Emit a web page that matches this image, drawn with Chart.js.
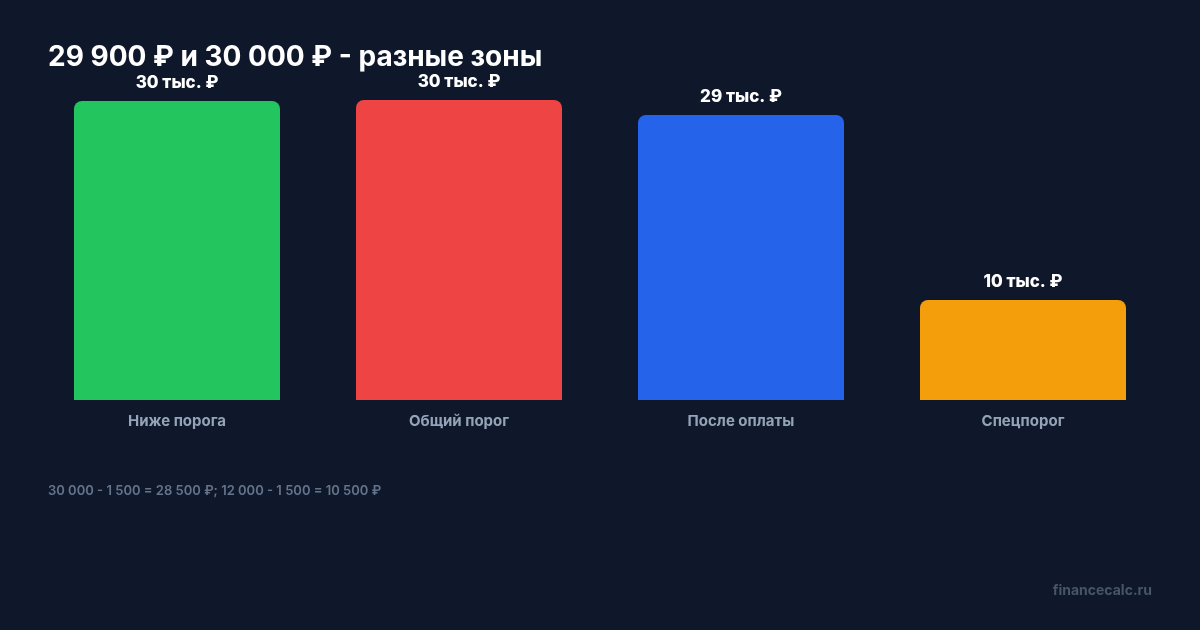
<!DOCTYPE html>
<html><head><meta charset="utf-8">
<script src="https://cdn.jsdelivr.net/npm/chart.js@4/dist/chart.umd.min.js"></script>
<style>
html,body{margin:0;padding:0;background:#0f172a;width:1200px;height:630px;overflow:hidden;font-family:Inter,"Noto Sans",sans-serif}
#wrap{position:absolute;left:0;top:0;width:1200px;height:630px}
#title{position:absolute;left:48px;top:38px;color:#fff;font-size:28px;font-weight:700;white-space:nowrap;line-height:36px}
#note{position:absolute;left:48px;top:481px;color:#64748b;font-size:13px;font-weight:600;white-space:nowrap;line-height:18px}
#wm{position:absolute;right:48px;top:581px;color:#475569;font-size:14px;font-weight:700;white-space:nowrap;line-height:18px}
</style></head>
<body>
<div id="wrap"><canvas id="c" width="1200" height="630"></canvas></div>
<div id="title">29 900 ₽ и 30 000 ₽ - разные зоны</div>
<div id="note">30 000 - 1 500 = 28 500 ₽; 12 000 - 1 500 = 10 500 ₽</div>
<div id="wm">financecalc.ru</div>
<script>
const categories = ["Ниже порога", "Общий порог", "После оплаты", "Спецпорог"];
const values = [29900, 30000, 28500, 10000];
const valueLabels = ["30 тыс. ₽", "30 тыс. ₽", "29 тыс. ₽", "10 тыс. ₽"];
const barColors = ["#22c55e", "#ef4444", "#2563eb", "#f59e0b"];

const labelPlugin = {
  id: 'valLabels',
  afterDatasetsDraw(chart) {
    const ctx = chart.ctx;
    const meta = chart.getDatasetMeta(0);
    ctx.save();
    ctx.fillStyle = '#ffffff';
    ctx.font = '800 17px Inter';
    ctx.textAlign = 'center';
    ctx.textBaseline = 'middle';
    meta.data.forEach((bar, i) => {
      ctx.fillText(valueLabels[i], bar.x, bar.y - 18);
    });
    ctx.restore();
  }
};

new Chart(document.getElementById('c'), {
  type: 'bar',
  data: {
    labels: categories,
    datasets: [{
      data: values,
      backgroundColor: barColors,
      borderRadius: 8,
      borderSkipped: 'bottom',
      barPercentage: 206/282,
      categoryPercentage: 1
    }]
  },
  options: {
    responsive: false,
    animation: false,
    devicePixelRatio: 1,
    layout: { padding: { top: 100, left: 36, right: 36, bottom: 188 } },
    plugins: { legend: { display: false }, tooltip: { enabled: false }, title: { display: false } },
    scales: {
      x: {
        grid: { display: false, drawTicks: false },
        border: { display: false },
        ticks: { color: '#94a3b8', font: { family: 'Inter', size: 15, weight: '700' }, padding: 12 }
      },
      y: { display: false, min: 0, max: 30000 }
    }
  },
  plugins: [labelPlugin]
});
</script>
</body></html>
